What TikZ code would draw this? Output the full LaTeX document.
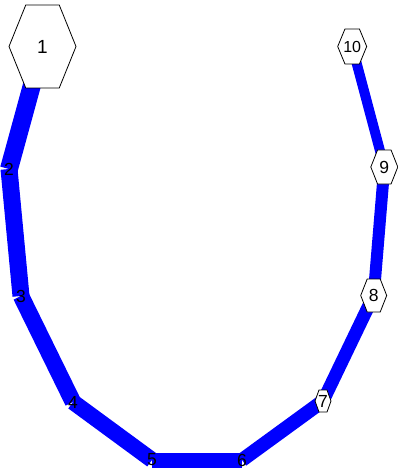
\documentclass[tikz,border=0pt]{standalone}
\usepackage{fontspec}
\setmainfont{Liberation Sans}
\usetikzlibrary{calc}
\pgfdeclarelayer{edgelayer}
\pgfdeclarelayer{shapelayer}
\pgfsetlayers{edgelayer,shapelayer,main}
\newcommand\hexfor[1]{%
  \filldraw[hexline] (#1.west) -- ($(#1.north west)!.25!(#1.north east)$) -- ($(#1.north west)!.75!(#1.north east)$) -- (#1.east) -- ($(#1.south west)!.75!(#1.south east)$) -- ($(#1.south west)!.25!(#1.south east)$) -- cycle;}
\tikzset{
  vtx/.style 2 args={rectangle, inner sep=0pt, outer sep=0pt, minimum width=#1, minimum height=#2, font=\fontsize{17.5}{20}\selectfont},
  dot/.style={rectangle, inner sep=0pt, outer sep=0pt, minimum size=0pt, font=\fontsize{17.5}{20}\selectfont},
  hexline/.style={draw=black, fill=white, line width=0.8pt, line join=miter},
  edge/.style={draw=blue, line cap=butt},
}
\begin{document}
\begin{tikzpicture}[x=1pt,y=-1pt]
\useasboundingbox (0,0) rectangle (398,473);
\node[vtx={67pt}{83pt}, font=\fontsize{19}{20}\selectfont] (n1) at (42.5,46.5) {1};
\node[dot] (n2) at (9,169) {2};
\node[dot] (n3) at (21,296) {3};
\node[dot] (n4) at (73,402) {4};
\node[dot] (n5) at (152,460) {5};
\node[dot] (n6) at (242,460) {6};
\node[vtx={16pt}{22pt}] (n7) at (323,401) {7};
\node[vtx={26pt}{33pt}] (n8) at (373.7,295.5) {8};
\node[vtx={27pt}{34pt}] (n9) at (384.3,167) {9};
\node[vtx={29pt}{35pt}, font=\fontsize{16}{18}\selectfont] (n10) at (352.2,46.5) {10};
\begin{pgfonlayer}{edgelayer}
\draw[edge, line width=18pt] (n1.center) -- (n2.center);
\draw[edge, line width=17pt] (n2.center) -- (n3.center);
\draw[edge, line width=16.5pt] (n3.center) -- (n4.center);
\draw[edge, line width=16pt] (n4.center) -- (n5.center);
\draw[edge, line width=15pt] (n5.center) -- (n6.center);
\draw[edge, line width=14pt] (n6.center) -- (n7.center);
\draw[edge, line width=13pt] (n7.center) -- (n8.center);
\draw[edge, line width=12pt] (n8.center) -- (n9.center);
\draw[edge, line width=10pt] (n9.center) -- (n10.center);
\end{pgfonlayer}
\begin{pgfonlayer}{shapelayer}
\hexfor{n1}
\hexfor{n7}
\hexfor{n8}
\hexfor{n9}
\hexfor{n10}
\end{pgfonlayer}
\end{tikzpicture}
\end{document}
